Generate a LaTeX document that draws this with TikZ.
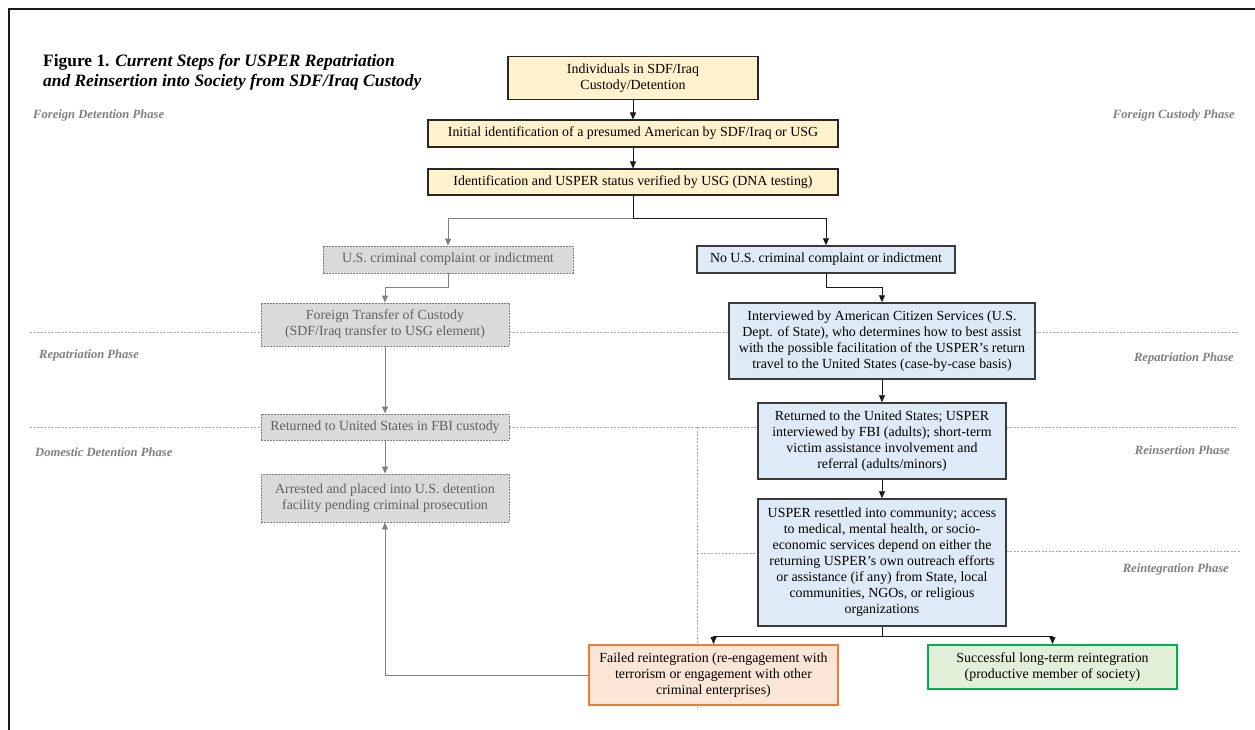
\documentclass[tikz,border=0pt]{standalone}
\usepackage{fontspec}
\setmainfont{Liberation Serif}
\usetikzlibrary{arrows.meta,backgrounds}
\newcommand\bxfont{\fontsize{13.9}{16}\selectfont}
\newcommand\phfont{\fontsize{12.6}{14}\selectfont\bfseries\itshape}
\definecolor{yfill}{HTML}{FFF2CC}
\definecolor{gfill}{HTML}{DADADA}
\definecolor{gline}{HTML}{808080}
\definecolor{gtext}{HTML}{606060}
\definecolor{bfill}{HTML}{DEEBF7}
\definecolor{bline}{HTML}{3A3A3A}
\definecolor{ofill}{HTML}{FBE5D6}
\definecolor{oline}{HTML}{ED7D31}
\definecolor{sfill}{HTML}{E2F0D9}
\definecolor{sline}{HTML}{00B050}
\definecolor{phline}{HTML}{A8A8A8}
\definecolor{phtext}{HTML}{7F7F7F}
\tikzset{
  basebox/.style={rectangle, align=center, inner sep=2pt, font=\bxfont},
  ybox/.style={basebox, fill=yfill, draw=black!85, line width=1.1pt},
  gbox/.style={basebox, fill=gfill, draw=gline, line width=0.9pt, dash pattern=on 2pt off 1pt, text=gtext},
  bbox/.style={basebox, fill=bfill, draw=bline, line width=1.5pt},
  obox/.style={basebox, fill=ofill, draw=oline, line width=2pt},
  sbox/.style={basebox, fill=sfill, draw=sline, line width=2pt},
  arrK/.style={draw=black!90, line width=0.9pt, -{Triangle[length=7pt,width=6pt]}},
  lineK/.style={draw=black!90, line width=0.9pt},
  arrG/.style={draw=gline, line width=0.9pt, -{Triangle[length=7pt,width=6pt]}},
  lineG/.style={draw=gline, line width=0.9pt},
  phaseline/.style={draw=phline, line width=0.7pt, dash pattern=on 2pt off 1.5pt},
  phaselbl/.style={font=\phfont, text=phtext, inner sep=0pt},
}
\begin{document}
\begin{tikzpicture}[x=1pt,y=-1pt]
\useasboundingbox (0,0) rectangle (1255,730);
% frame
\draw[line width=2.6pt, black!90] (9,730) -- (9,9) -- (1255,9);
% title
\node[anchor=west, align=left, inner sep=0pt, font=\fontsize{17.4}{20}\selectfont] (title) at (43,72)
  {{\bfseries Figure 1. \itshape Current Steps for USPER Repatriation}\\
   {\bfseries\itshape and Reinsertion into Society from SDF/Iraq Custody}};
% phase lines
\coordinate (pl1a) at (30,332); \coordinate (pl1b) at (1237,332);
\coordinate (pl2a) at (30,427); \coordinate (pl2b) at (1237,427);
% boxes
\node[ybox, minimum width=250pt, minimum height=43pt] (ind) at (633,78) {Individuals in SDF/Iraq\\Custody/Detention};
\node[ybox, minimum width=410pt, minimum height=27pt] (init) at (633,133.5) {Initial identification of a presumed American by SDF/Iraq or USG};
\node[ybox, minimum width=410pt, minimum height=26pt] (ident) at (633,182) {Identification and USPER status verified by USG (DNA testing)};
\node[gbox, minimum width=250pt, minimum height=27pt] (crim) at (448,259.5) {U.S. criminal complaint or indictment};
\node[bbox, minimum width=258pt, minimum height=27pt] (nocrim) at (826,259.5) {No U.S. criminal complaint or indictment};
\node[gbox, minimum width=248pt, minimum height=43pt] (ftc) at (385,324.5) {Foreign Transfer of Custody\\(SDF/Iraq transfer to USG element)};
\node[bbox, minimum width=306pt, minimum height=76pt] (acs) at (882,341) {Interviewed by American Citizen Services (U.S.\\Dept. of State), who determines how to best assist\\with the possible facilitation of the USPER’s return\\travel to the United States (case-by-case basis)};
\node[gbox, minimum width=248pt, minimum height=26pt] (fbi) at (385,427) {Returned to United States in FBI custody};
\node[bbox, minimum width=248pt, minimum height=76pt] (ret) at (882,441) {Returned to the United States; USPER\\interviewed by FBI (adults); short-term\\victim assistance involvement and\\referral (adults/minors)};
\node[gbox, minimum width=248pt, minimum height=48pt] (arr) at (385,498) {Arrested and placed into U.S. detention\\facility pending criminal prosecution};
\node[bbox, minimum width=248pt, minimum height=127pt] (res) at (882,562.5) {USPER resettled into community; access\\to medical, mental health, or socio-\\economic services depend on either the\\returning USPER’s own outreach efforts\\or assistance (if any) from State, local\\communities, NGOs, or religious\\organizations};
\node[obox, minimum width=249pt, minimum height=60pt] (fail) at (713.5,675) {Failed reintegration (re-engagement with\\terrorism or engagement with other\\criminal enterprises)};
\node[sbox, minimum width=249pt, minimum height=44pt] (succ) at (1052.5,667) {Successful long-term reintegration\\(productive member of society)};
% phase dashed lines (behind the boxes)
\begin{scope}[on background layer]
\draw[phaseline] (pl1a) -- (ftc.west |- pl1a);
\draw[phaseline] (ftc.east |- pl1a) -- (acs.west |- pl1a);
\draw[phaseline] (acs.east |- pl1a) -- (pl1b);
\draw[phaseline] (pl2a) -- (fbi.west);
\draw[phaseline] (fbi.east) -- (ret.west |- pl2a);
\draw[phaseline] (ret.east |- pl2a) -- (pl2b);
\coordinate (vd1) at (697,427); \coordinate (vd2) at (697,708);
\draw[phaseline] (vd1) -- (vd2);
\coordinate (pl3a) at (697,553); \coordinate (pl3b) at (1240,551);
\draw[phaseline] (pl3a) -- (res.west |- pl3a);
\draw[phaseline] (res.east |- pl3b) -- (pl3b);
\end{scope}
% phase labels
\node[phaselbl, anchor=west] (lf) at (33,115) {Foreign Detention Phase};
\node[phaselbl, anchor=west] (lr) at (39,355) {Repatriation Phase};
\node[phaselbl, anchor=west] (ld) at (35,452) {Domestic Detention Phase};
\node[phaselbl, anchor=east] (rf) at (1235,115) {Foreign Custody Phase};
\node[phaselbl, anchor=east] (rr) at (1234,358) {Repatriation Phase};
\node[phaselbl, anchor=east] (rs) at (1230,450) {Reinsertion Phase};
\node[phaselbl, anchor=east] (ri) at (1229,569) {Reintegration Phase};
% connectors
\draw[arrK] (ind) -- (init);
\draw[arrK] (init) -- (ident);
\coordinate (j1) at (633,218);
\draw[lineK] (ident.south) -- (j1);
\draw[arrK] (j1) -| (nocrim.north);
\draw[arrG] (j1) -| (crim.north);
\coordinate (j2) at (448,287);
\draw[arrG] (crim.south) -- (j2) -| (ftc.north);
\coordinate (j3) at (826,287);
\draw[arrK] (nocrim.south) -- (j3) -| (acs.north);
\draw[arrG] (ftc) -- (fbi);
\draw[arrG] (fbi) -- (arr);
\draw[arrK] (acs) -- (ret);
\draw[arrK] (ret) -- (res);
\coordinate (j4) at (882,636);
\draw[lineK] (res.south) -- (j4);
\draw[arrK] (j4) -| (fail.north);
\draw[arrK] (j4) -| (succ.north);
\coordinate (j5) at (385,675);
\draw[arrG] (fail.west) -- (j5) -- (arr.south);
\end{tikzpicture}
\end{document}
